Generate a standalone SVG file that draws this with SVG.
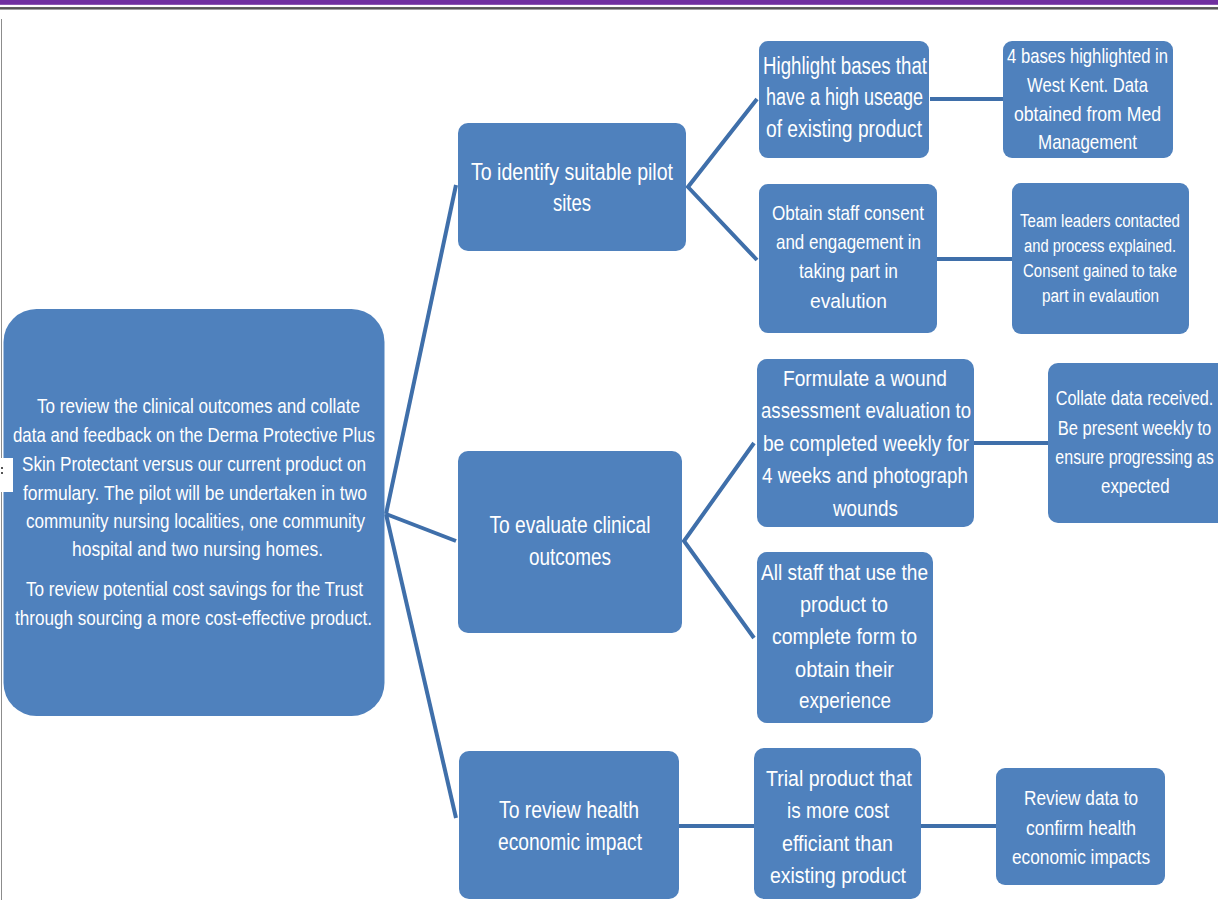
<svg xmlns="http://www.w3.org/2000/svg" width="1218" height="900" viewBox="0 0 1218 900">
<style>
.box{fill:#4F81BD}
.t{fill:#FFFFFF;font-family:"Liberation Sans Narrow","Liberation Sans",Arial,sans-serif;text-anchor:middle}
.c{stroke:#3F6FAA;stroke-width:4;fill:none;stroke-linecap:butt}
</style>
<rect x="0" y="0" width="1218" height="900" fill="#FFFFFF"/>
<g id="header">
<rect x="0" y="0" width="1218" height="4.8" fill="#7030A0"/>
<rect x="0" y="7.3" width="1218" height="1.5" fill="#1E1E1E"/>
<rect x="0" y="8.8" width="1218" height="1" fill="#8A8A8A"/>
<line x1="1.5" y1="19" x2="1.5" y2="900" stroke="#8C8C8C" stroke-width="1"/>
</g>
<g id="connectors">
<line class="c" x1="386" y1="514" x2="456" y2="185"/>
<line class="c" x1="386" y1="514" x2="456" y2="541"/>
<line class="c" x1="386" y1="514" x2="456" y2="818"/>
<polyline class="c" points="757,99 688,187 757,260"/>
<polyline class="c" points="754,443 684,541 754,638"/>
<line class="c" x1="930" y1="99" x2="1003" y2="99"/>
<line class="c" x1="937" y1="259" x2="1012" y2="259"/>
<line class="c" x1="974" y1="443" x2="1048" y2="443"/>
<line class="c" x1="679" y1="826" x2="754" y2="826"/>
<line class="c" x1="921" y1="826" x2="996" y2="826"/>
</g>
<g id="root">
<rect class="box" x="3.5" y="309" width="381" height="407" rx="33"/>
<g class="t" font-size="21">
<text x="198.5" y="413" textLength="323" lengthAdjust="spacingAndGlyphs">To review the clinical outcomes and collate</text>
<text x="194" y="442" textLength="362" lengthAdjust="spacingAndGlyphs">data and feedback on the Derma Protective Plus</text>
<text x="194" y="471" textLength="344" lengthAdjust="spacingAndGlyphs">Skin Protectant versus our current product on</text>
<text x="195" y="500" textLength="344" lengthAdjust="spacingAndGlyphs">formulary. The pilot will be undertaken in two</text>
<text x="195.5" y="528" textLength="339" lengthAdjust="spacingAndGlyphs">community nursing localities, one community</text>
<text x="197.5" y="556" textLength="251" lengthAdjust="spacingAndGlyphs">hospital and two nursing homes.</text>
<text x="194.5" y="596" textLength="337" lengthAdjust="spacingAndGlyphs">To review potential cost savings for the Trust</text>
<text x="193.5" y="625" textLength="357" lengthAdjust="spacingAndGlyphs">through sourcing a more cost-effective product.</text>
</g>
</g>
<g id="notch">
<rect x="0" y="458" width="13" height="34" fill="#FFFFFF"/>
<rect x="1" y="467" width="2" height="2" fill="#555555"/>
<rect x="1" y="472" width="2" height="2" fill="#555555"/>
</g>
<g id="n-identify">
<rect class="box" x="458" y="123" width="228" height="128" rx="10"/>
<g class="t" font-size="24">
<text x="572" y="180" textLength="202" lengthAdjust="spacingAndGlyphs">To identify suitable pilot</text>
<text x="572" y="211" textLength="38" lengthAdjust="spacingAndGlyphs">sites</text>
</g>
</g>
<g id="n-evaluate">
<rect class="box" x="458" y="451" width="224" height="182" rx="10"/>
<g class="t" font-size="24">
<text x="570" y="533" textLength="161" lengthAdjust="spacingAndGlyphs">To evaluate clinical</text>
<text x="570" y="565" textLength="82" lengthAdjust="spacingAndGlyphs">outcomes</text>
</g>
</g>
<g id="n-review">
<rect class="box" x="459" y="751" width="220" height="148" rx="10"/>
<g class="t" font-size="24">
<text x="569" y="818" textLength="140" lengthAdjust="spacingAndGlyphs">To review health</text>
<text x="570" y="850" textLength="144" lengthAdjust="spacingAndGlyphs">economic impact</text>
</g>
</g>
<g id="n-highlight">
<rect class="box" x="759" y="41" width="170" height="117" rx="9"/>
<g class="t" font-size="23">
<text x="845" y="74" textLength="164" lengthAdjust="spacingAndGlyphs">Highlight bases that</text>
<text x="844.5" y="105" textLength="157" lengthAdjust="spacingAndGlyphs">have a high useage</text>
<text x="844" y="137" textLength="156" lengthAdjust="spacingAndGlyphs">of existing product</text>
</g>
</g>
<g id="n-bases">
<rect class="box" x="1003" y="41" width="170" height="117" rx="9"/>
<g class="t" font-size="21">
<text x="1087.5" y="63" textLength="161" lengthAdjust="spacingAndGlyphs">4 bases highlighted in</text>
<text x="1087.5" y="92" textLength="121" lengthAdjust="spacingAndGlyphs">West Kent. Data</text>
<text x="1087.5" y="121" textLength="147" lengthAdjust="spacingAndGlyphs">obtained from Med</text>
<text x="1087.5" y="149" textLength="99" lengthAdjust="spacingAndGlyphs">Management</text>
</g>
</g>
<g id="n-consent">
<rect class="box" x="759" y="184" width="178" height="149" rx="9"/>
<g class="t" font-size="21">
<text x="848" y="220" textLength="152" lengthAdjust="spacingAndGlyphs">Obtain staff consent</text>
<text x="848.5" y="249" textLength="145" lengthAdjust="spacingAndGlyphs">and engagement in</text>
<text x="848.5" y="278" textLength="99" lengthAdjust="spacingAndGlyphs">taking part in</text>
<text x="848.5" y="308" textLength="77" lengthAdjust="spacingAndGlyphs">evalution</text>
</g>
</g>
<g id="n-team">
<rect class="box" x="1012" y="183" width="177" height="151" rx="9"/>
<g class="t" font-size="18">
<text x="1100" y="227" textLength="160" lengthAdjust="spacingAndGlyphs">Team leaders contacted</text>
<text x="1100" y="252" textLength="152" lengthAdjust="spacingAndGlyphs">and process explained.</text>
<text x="1100" y="277" textLength="154" lengthAdjust="spacingAndGlyphs">Consent gained to take</text>
<text x="1100.5" y="302" textLength="117" lengthAdjust="spacingAndGlyphs">part in evalaution</text>
</g>
</g>
<g id="n-formulate">
<rect class="box" x="757" y="359" width="217" height="168" rx="10"/>
<g class="t" font-size="22">
<text x="865" y="386" textLength="164" lengthAdjust="spacingAndGlyphs">Formulate a wound</text>
<text x="866" y="418" textLength="210" lengthAdjust="spacingAndGlyphs">assessment evaluation to</text>
<text x="866" y="451" textLength="206" lengthAdjust="spacingAndGlyphs">be completed weekly for</text>
<text x="865" y="483" textLength="206" lengthAdjust="spacingAndGlyphs">4 weeks and photograph</text>
<text x="865.5" y="516" textLength="65" lengthAdjust="spacingAndGlyphs">wounds</text>
</g>
</g>
<g id="n-collate">
<rect class="box" x="1048" y="363" width="180" height="160" rx="10"/>
<g class="t" font-size="21" transform="translate(1134.5 0) scale(0.78 1)">
<text x="0" y="405" textLength="202" lengthAdjust="spacingAndGlyphs">Collate data received.</text>
<text x="0" y="435" textLength="197" lengthAdjust="spacingAndGlyphs">Be present weekly to</text>
<text x="0" y="464" textLength="203" lengthAdjust="spacingAndGlyphs">ensure progressing as</text>
<text x="1" y="493" textLength="88" lengthAdjust="spacingAndGlyphs">expected</text>
</g>
</g>
<g id="n-allstaff">
<rect class="box" x="757" y="552" width="176" height="171" rx="10"/>
<g class="t" font-size="22">
<text x="844.5" y="580" textLength="167" lengthAdjust="spacingAndGlyphs">All staff that use the</text>
<text x="844" y="612" textLength="88" lengthAdjust="spacingAndGlyphs">product to</text>
<text x="844.5" y="644" textLength="145" lengthAdjust="spacingAndGlyphs">complete form to</text>
<text x="844.5" y="677" textLength="99" lengthAdjust="spacingAndGlyphs">obtain their</text>
<text x="845" y="708" textLength="92" lengthAdjust="spacingAndGlyphs">experience</text>
</g>
</g>
<g id="n-trial">
<rect class="box" x="754" y="748" width="167" height="151" rx="10"/>
<g class="t" font-size="22">
<text x="839" y="786" textLength="146" lengthAdjust="spacingAndGlyphs">Trial product that</text>
<text x="838" y="818" textLength="102" lengthAdjust="spacingAndGlyphs">is more cost</text>
<text x="837.5" y="851" textLength="111" lengthAdjust="spacingAndGlyphs">efficiant than</text>
<text x="838" y="883" textLength="136" lengthAdjust="spacingAndGlyphs">existing product</text>
</g>
</g>
<g id="n-reviewdata">
<rect class="box" x="996" y="768" width="169" height="117" rx="9"/>
<g class="t" font-size="20">
<text x="1081" y="805" textLength="114" lengthAdjust="spacingAndGlyphs">Review data to</text>
<text x="1081" y="835" textLength="110" lengthAdjust="spacingAndGlyphs">confirm health</text>
<text x="1081" y="864" textLength="138" lengthAdjust="spacingAndGlyphs">economic impacts</text>
</g>
</g>
</svg>
